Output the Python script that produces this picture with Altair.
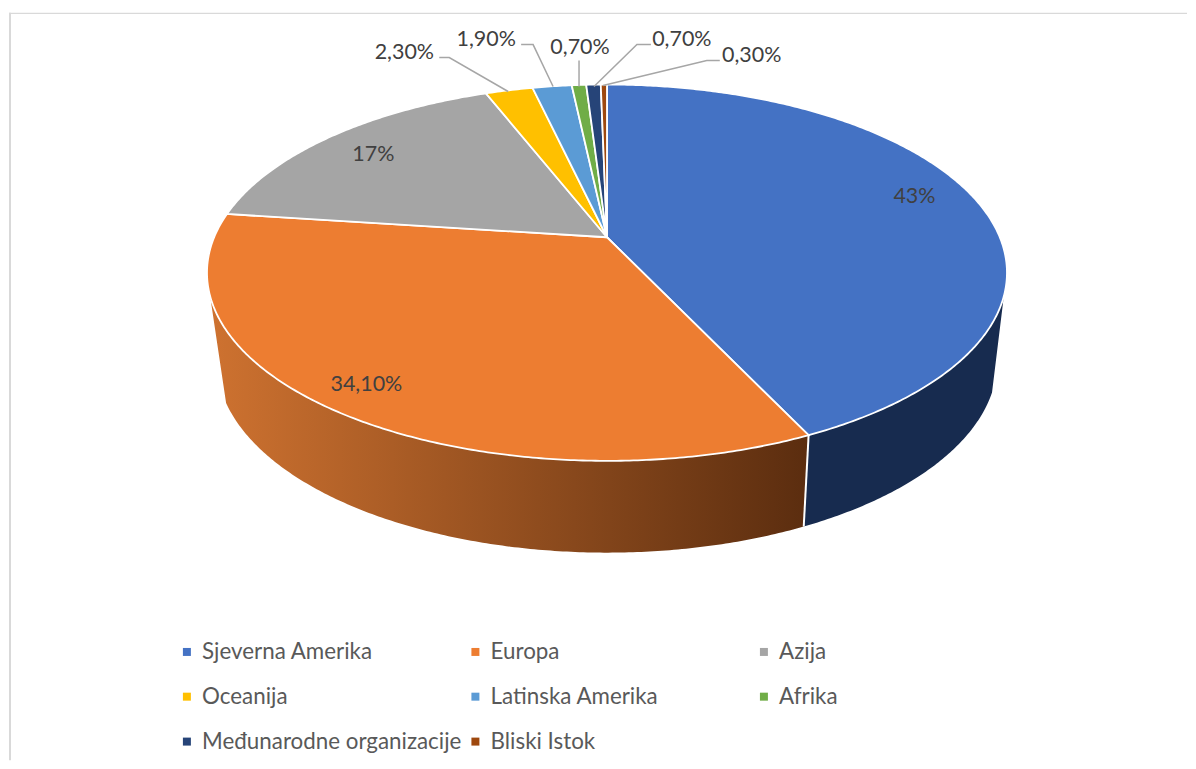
import math
import altair as alt
import pandas as pd

categories = ["Sjeverna Amerika", "Europa", "Azija", "Oceanija", "Latinska Amerika",
              "Afrika", "Međunarodne organizacije", "Bliski Istok"]
shares = [43.0, 34.1, 17.0, 2.3, 1.9, 0.7, 0.7, 0.3]
value_labels = ["43%", "34,10%", "17%", "2,30%", "1,90%", "0,70%", "0,70%", "0,30%"]
colors = ["#4472C4", "#ED7D31", "#A5A5A5", "#FFC000", "#5B9BD5", "#70AD47", "#264478", "#9E480E"]

# page pixel -> plot pixel (page margin is 8 px)
OFF = 8
# perspective disc: centre, half axes, foreshortening
TOP = dict(cx=607, cy=237, a=393.5, b=181.8, k=0.1883)
BOT = dict(cx=607, cy=325, a=384, b=185, k=0.1883)


def ring(theta_deg, p):
    t = math.radians(theta_deg)
    u, v = math.sin(t), -math.cos(t)
    w = 1 - p["k"] * v
    return [p["cx"] + p["a"] * u / w - OFF, p["cy"] + p["b"] * v / w - OFF]


def arc(t0, t1, p):
    n = max(2, int(abs(t1 - t0) * 2))
    return [ring(t0 + (t1 - t0) * i / n, p) for i in range(n + 1)]


def poly(name, pts):
    return {"type": "Feature", "properties": {"name": name},
            "geometry": {"type": "Polygon", "coordinates": [pts + [pts[0]]]}}


edges = [0.0]
for s in shares:
    edges.append(edges[-1] + s * 3.6)
edges[-1] = 360.0

centre = [TOP["cx"] - OFF, TOP["cy"] - OFF]
top_features = [poly(c, [centre] + arc(edges[i], edges[i + 1], TOP)) for i, c in enumerate(categories)]

WALL_START, WALL_END = 107.8, 252.2
BOT_START, BOT_END = 110.0, 247.0
wall_blue = poly("blue", arc(WALL_START, edges[1], TOP) + arc(edges[1], BOT_START, BOT))
wall_orange = poly("orange", arc(edges[1], WALL_END, TOP) + arc(BOT_END, edges[1], BOT))

proj = alt.Projection(type="identity", scale=1, translate=[0, 0])

blue_layer = alt.Chart(alt.Data(values=[wall_blue])).mark_geoshape(
    fill="#172B4F", strokeWidth=0).project(**proj.to_dict())
orange_layer = alt.Chart(alt.Data(values=[wall_orange])).mark_geoshape(
    fill=alt.Gradient(gradient="linear", x1=0, x2=1, y1=0, y2=0,
                      stops=[alt.GradientStop(color="#CE7230", offset=0),
                             alt.GradientStop(color="#5B2D0F", offset=1)]),
    strokeWidth=0).project(**proj.to_dict())

seam = pd.DataFrame([ring(edges[1], TOP), ring(edges[1], BOT)], columns=["px", "py"])
seam_layer = alt.Chart(seam).mark_line(color="white", strokeWidth=2).encode(
    x=alt.X("px:Q", scale=None, axis=None), y=alt.Y("py:Q", scale=None, axis=None))

top_layer = alt.Chart(alt.Data(values=top_features)).mark_geoshape(
    stroke="white", strokeWidth=1.8).encode(
    color=alt.Color("properties.name:N",
                    scale=alt.Scale(domain=categories, range=colors),
                    sort=categories,
                    legend=alt.Legend(orient="none", legendX=167, legendY=633, columns=3,
                                      direction="horizontal",
                                      title=None, symbolType="square", symbolSize=64,
                                      symbolStrokeWidth=0, labelFontSize=22.4, labelFont="Lato",
                                      labelColor="#595959", gridAlign="all", rowPadding=22,
                                      columnPadding=2, labelOffset=4, labelLimit=400))
).project(**proj.to_dict())

# label anchor points on the page (centre of each text) and leader-line bends
label_x = [915, 366, 373, 404, 486, 580, 682, 752]
label_y = [197, 385, 155, 52, 39, 47, 39, 55]
labels = pd.DataFrame({"t": value_labels, "px": [x - OFF for x in label_x], "py": [y - OFF for y in label_y]})
text_layer = alt.Chart(labels).mark_text(font="Lato", fontSize=21.5, color="#404040").encode(
    x=alt.X("px:Q", scale=None, axis=None), y=alt.Y("py:Q", scale=None, axis=None), text="t:N")

leader_ids = [3, 3, 3, 4, 4, 4, 5, 5, 6, 6, 6, 7, 7, 7]
leader_x = [439, 449, 508, 521, 533, 553, 579, 579, 651, 637, 594, 720, 707, 603]
leader_y = [57, 57, 91, 44, 44, 86, 60, 86, 44, 44, 86, 60, 60, 85]
leaders = pd.DataFrame({"id": leader_ids, "px": [x - OFF for x in leader_x], "py": [y - OFF for y in leader_y],
                        "o": range(len(leader_ids))})
leader_layer = alt.Chart(leaders).mark_line(color="#A6A6A6", strokeWidth=1.5).encode(
    x=alt.X("px:Q", scale=None, axis=None), y=alt.Y("py:Q", scale=None, axis=None),
    detail="id:N", order="o:Q")

# the frame of the picture: only its left and top edges show
frame_top = alt.Chart(pd.DataFrame({"k": [0]})).mark_rule(color="#D9D9D9", strokeWidth=1.4).encode(
    x=alt.value(0), x2=alt.value(1180), y=alt.value(4.7))
frame_left = alt.Chart(pd.DataFrame({"k": [0]})).mark_rule(color="#D9D9D9", strokeWidth=2).encode(
    x=alt.value(1), y=alt.value(4), y2=alt.value(753))

chart = alt.layer(frame_top, frame_left, blue_layer, orange_layer, seam_layer, top_layer,
                  leader_layer, text_layer).properties(
    width=1180, height=753, padding=0
).configure_view(stroke=None)

chart.save("out.html", embed_options={"renderer": "svg", "actions": False})
